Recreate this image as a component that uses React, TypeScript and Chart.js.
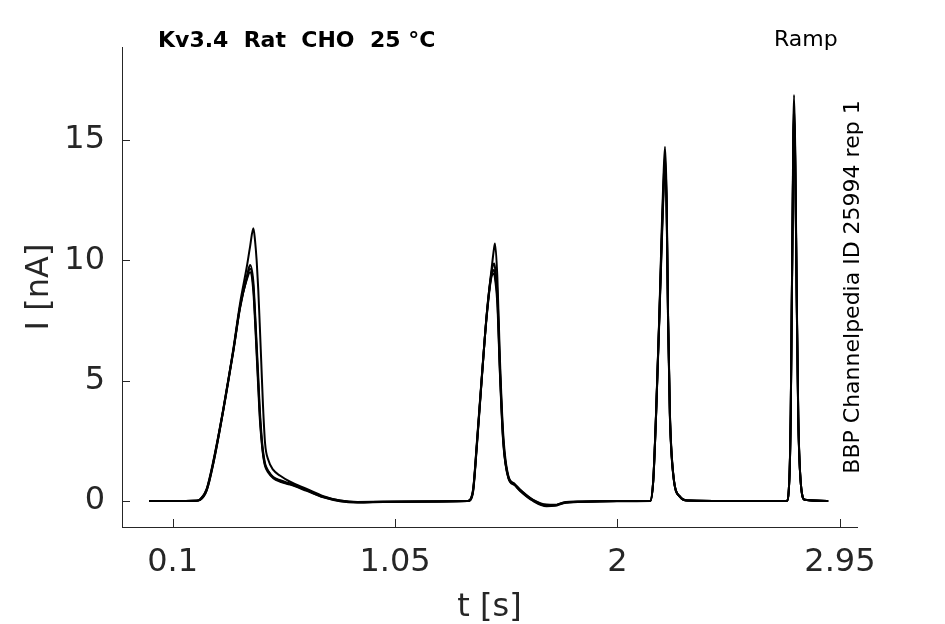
import React, { useEffect, useRef } from "react";
import { Chart, registerables } from "chart.js";

Chart.register(...registerables);

// time axis in seconds, shared by all sweeps
const timeS = [
	0, 0.1, 0.2, 0.217, 0.246, 0.274, 0.317, 0.36, 0.388, 0.417, 0.431, 0.445, 0.452, 0.459, 0.466, 0.472,
	0.479, 0.486, 0.495, 0.509, 0.53, 0.56, 0.602, 0.673, 0.744, 0.815, 0.89, 1.0, 1.2, 1.36, 1.371, 1.384,
	1.399, 1.42, 1.442, 1.463, 1.473, 1.477, 1.487, 1.498, 1.512, 1.534, 1.56, 1.584, 1.64, 1.697, 1.733,
	1.769, 1.85, 2.0, 2.14, 2.153, 2.165, 2.179, 2.189, 2.196, 2.203, 2.21, 2.216, 2.224, 2.238, 2.267, 2.3,
	2.5, 2.722, 2.734, 2.74, 2.744, 2.748, 2.751, 2.754, 2.759, 2.765, 2.772, 2.782, 2.8, 2.9,
];

// current in nA, one array per sweep
const sweepA = [
	0, 0, 0.01, 0.04, 0.44, 1.55, 3.8, 6.35, 8.2, 9.73, 10.57, 11.33, 10.84, 10.0, 8.77, 7.4,
	5.7, 4.0, 2.4, 1.7, 1.29, 1.05, 0.8, 0.5, 0.2, 0.02, -0.05, -0.03, -0.02, 0, 0.03, 0.42,
	2.2, 5.0, 7.8, 9.7, 10.5, 10.7, 9.3, 5.9, 2.8, 1.05, 0.72, 0.48, 0.05, -0.15, -0.16,
	-0.06, -0.02, 0, 0, 0.85, 3.64, 7.8, 11.26, 13.34, 14.72, 12.64, 7.8, 3.64, 1.15, 0.18, 0.02,
	0, 0, 0.87, 3.64, 7.8, 11.96, 15.4, 16.87, 14.72, 9.18, 3.64, 0.87, 0.05, 0,
];
const sweepB = [
	0, 0, 0.01, 0.05, 0.46, 1.58, 3.78, 6.27, 8.07, 9.32, 9.8, 9.1, 7.9, 6.55, 5.16, 3.9,
	2.85, 2.1, 1.56, 1.25, 1.0, 0.86, 0.73, 0.46, 0.18, 0.02, -0.04, -0.03, -0.02, 0, 0.04, 0.46,
	2.26, 5.03, 7.8, 9.55, 9.87, 9.7, 8.7, 5.6, 2.6, 1.0, 0.7, 0.46, 0.04, -0.17, -0.17,
	-0.07, -0.03, -0.01, 0, 0.87, 3.6, 7.7, 11.0, 13.0, 14.3, 12.4, 7.7, 3.6, 1.15, 0.18, 0.02,
	0, 0, 0.87, 3.6, 7.7, 11.8, 15.0, 16.4, 14.4, 9.0, 3.6, 0.87, 0.05, 0,
];
const sweepC = [
	0, 0, 0.01, 0.06, 0.5, 1.62, 3.82, 6.25, 8.0, 9.25, 9.65, 8.9, 7.7, 6.3, 4.9, 3.7,
	2.7, 2.0, 1.5, 1.22, 0.98, 0.83, 0.7, 0.44, 0.16, 0.0, -0.05, -0.03, -0.02, 0, 0.05, 0.5,
	2.3, 5.05, 7.75, 9.45, 9.6, 9.4, 8.4, 5.4, 2.5, 0.98, 0.68, 0.44, 0.02, -0.19, -0.18,
	-0.08, -0.03, 0, 0, 0.9, 3.7, 7.7, 10.8, 12.8, 14.0, 12.2, 7.6, 3.5, 1.1, 0.17, 0.02,
	0, 0, 0.9, 3.7, 7.7, 11.6, 14.8, 16.1, 14.2, 8.9, 3.5, 0.85, 0.05, 0,
];
const sweepD = [
	0, 0, 0.01, 0.06, 0.52, 1.66, 3.85, 6.3, 8.05, 9.2, 9.5, 8.7, 7.5, 6.1, 4.7, 3.5,
	2.6, 1.95, 1.45, 1.18, 0.95, 0.8, 0.68, 0.42, 0.15, -0.01, -0.06, -0.04, -0.02, 0, 0.05, 0.52,
	2.35, 5.1, 7.7, 9.35, 9.45, 9.25, 8.2, 5.3, 2.45, 0.95, 0.66, 0.42, 0.0, -0.22, -0.2,
	-0.09, -0.03, 0, 0, 0.88, 3.6, 7.6, 10.6, 12.6, 13.8, 12.0, 7.5, 3.5, 1.1, 0.17, 0.02,
	0, 0, 0.88, 3.6, 7.6, 11.5, 14.6, 16.0, 14.0, 8.8, 3.5, 0.85, 0.05, 0,
];

const sweeps = [sweepA, sweepB, sweepC, sweepD];

const xTicks = [0.1, 1.05, 2, 2.95];
const yTicks = [0, 5, 10, 15];

const titleText = "Kv3.4  Rat  CHO  25 °C";
const protocolText = "Ramp";
const sideText = "BBP Channelpedia ID 25994 rep 1";

const axisColor = "#262626";
const fontFamily = '"DejaVu Sans", sans-serif';

// inward tick marks plus the free text around the axes
const figureText = {
	id: "figureText",
	afterDraw(chart: Chart) {
		const { ctx, chartArea, scales } = chart;
		const { left, right, top, bottom } = chartArea;
		ctx.save();

		ctx.strokeStyle = axisColor;
		ctx.lineWidth = 1;
		ctx.beginPath();
		xTicks.forEach((v) => {
			const px = Math.round(scales.x.getPixelForValue(v)) + 0.5;
			ctx.moveTo(px, bottom);
			ctx.lineTo(px, bottom - 8);
		});
		yTicks.forEach((v) => {
			const py = Math.round(scales.y.getPixelForValue(v)) + 0.5;
			ctx.moveTo(left, py);
			ctx.lineTo(left + 8, py);
		});
		ctx.stroke();

		ctx.fillStyle = "#000";
		ctx.textBaseline = "alphabetic";
		ctx.textAlign = "left";
		ctx.font = `bold 22px ${fontFamily}`;
		ctx.fillText(titleText, left + 36, top);
		ctx.font = `22px ${fontFamily}`;
		ctx.fillText(protocolText, right - 83, top - 1);

		ctx.translate(right + 2, (top + bottom) / 2);
		ctx.rotate(-Math.PI / 2);
		ctx.textAlign = "center";
		ctx.font = `22px ${fontFamily}`;
		ctx.fillText(sideText, 0, 0);

		ctx.restore();
	},
};

const TraceChart: React.FC = () => {
	const canvasRef = useRef<HTMLCanvasElement>(null);

	useEffect(() => {
		if (!canvasRef.current) return;
		const chart = new Chart(canvasRef.current, {
			type: "line",
			data: {
				datasets: sweeps.map((sweep, i) => ({
					label: `sweep ${i + 1}`,
					data: timeS.map((t, j) => ({ x: t, y: sweep[j] })),
					borderColor: "#000",
					borderWidth: 2,
					pointRadius: 0,
					cubicInterpolationMode: "monotone" as const,
				})),
			},
			options: {
				animation: false,
				responsive: false,
				layout: { padding: { top: 47, right: 88, left: 0, bottom: 0 } },
				plugins: {
					legend: { display: false },
					tooltip: { enabled: false },
				},
				scales: {
					x: {
						type: "linear",
						min: -0.116,
						max: 3.023,
						afterBuildTicks: (scale) => {
							scale.ticks = xTicks.map((v) => ({ value: v }));
						},
						afterFit: (scale) => {
							scale.height = 97;
						},
						grid: { display: false, drawTicks: false },
						border: { display: true, color: axisColor, width: 1 },
						ticks: {
							color: axisColor,
							font: { family: fontFamily, size: 32 },
							padding: 16,
							maxRotation: 0,
							autoSkip: false,
							callback: (v) => String(v),
						},
						title: {
							display: true,
							text: "t [s]",
							color: axisColor,
							font: { family: fontFamily, size: 32 },
							padding: { top: 0, bottom: -3 },
						},
					},
					y: {
						type: "linear",
						min: -1.08,
						max: 18.86,
						afterBuildTicks: (scale) => {
							scale.ticks = yTicks.map((v) => ({ value: v }));
						},
						afterFit: (scale) => {
							scale.width = 122;
						},
						grid: { display: false, drawTicks: false },
						border: { display: true, color: axisColor, width: 1 },
						ticks: {
							color: axisColor,
							font: { family: fontFamily, size: 32 },
							padding: 17,
							autoSkip: false,
							callback: (v) => String(v),
						},
						title: {
							display: true,
							text: "I [nA]",
							color: axisColor,
							font: { family: fontFamily, size: 32 },
							padding: { top: 20, bottom: 0 },
						},
					},
				},
			},
			plugins: [figureText],
		});

		return () => {
			chart.destroy();
		};
	}, []);

	return <canvas ref={canvasRef} width={945} height={624} />;
};

export default function App() {
	return (
		<div style={{ position: "fixed", left: 0, top: 0, width: 945, height: 624, background: "#fff" }}>
			<TraceChart />
		</div>
	);
}
